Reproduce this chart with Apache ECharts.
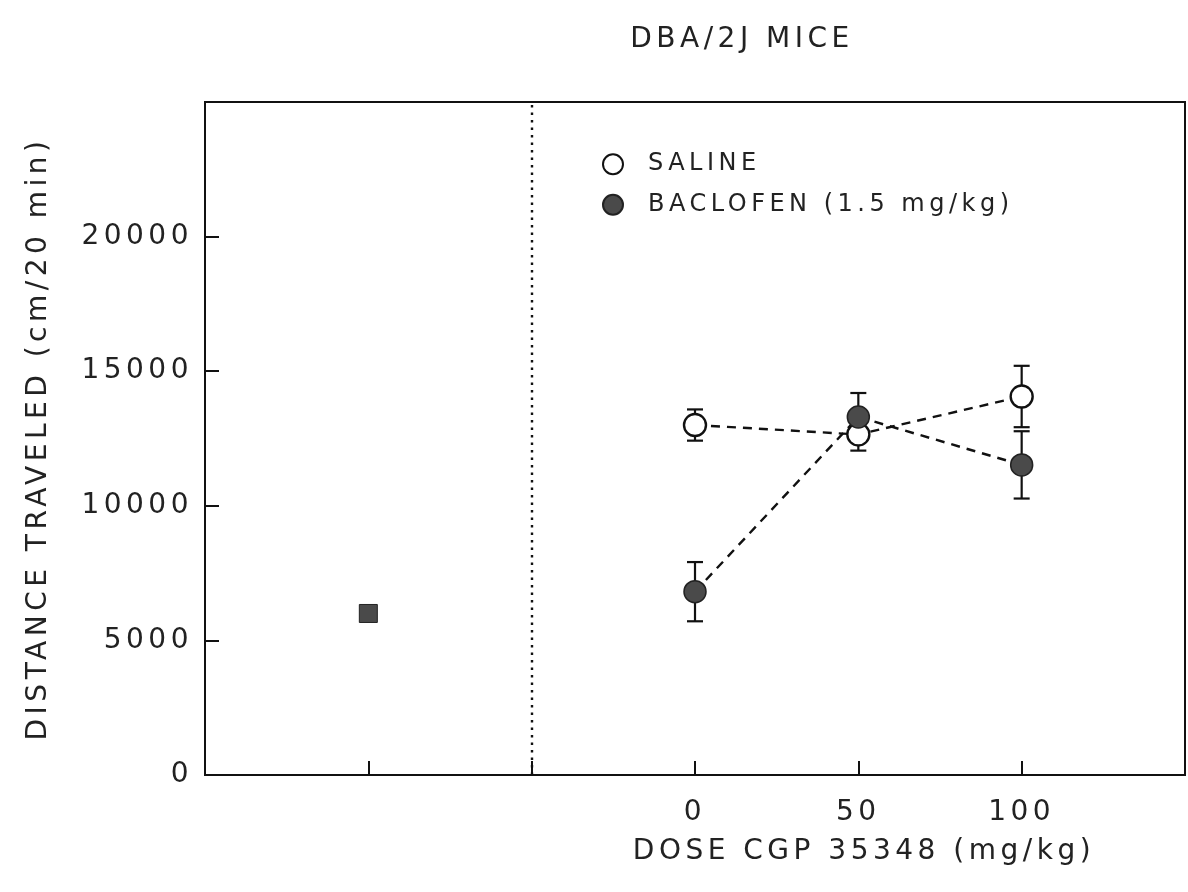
<!DOCTYPE html>
<html>
<head>
<meta charset="utf-8">
<script src="https://cdn.jsdelivr.net/npm/echarts@6/dist/echarts.min.js"></script>
<style>
html,body{margin:0;padding:0;background:#fff;}
#chart{width:1188px;height:892px;}
</style>
</head>
<body>
<div id="chart"></div>
<script>
// ---- data ----
var doseLabels = ['0', '50', '100'];
var dosePositions = [3, 4, 5];          // slots on the x scale
var salineMean = [13000, 12650, 14060];
var salineErr = [580, 600, 1140];
var baclofenMean = [6810, 13300, 11520];
var baclofenErr = [1100, 890, 1250];
var baclofenAlonePos = 1;
var baclofenAloneMean = 6000;
var dividerPos = 2;
var yTicks = [0, 5000, 10000, 15000, 20000];

// wide letter spacing like the original typewriter-style lettering
(function () {
  var LS = '4.5px';
  var proto = CanvasRenderingContext2D.prototype;
  var of = proto.fillText, om = proto.measureText;
  proto.fillText = function () { this.letterSpacing = LS; return of.apply(this, arguments); };
  proto.measureText = function () { this.letterSpacing = LS; return om.apply(this, arguments); };
})();

var FONT = 'DejaVu Sans';
var FS = 28;
var TXT = '#222';

function pairs(pos, vals) { return pos.map(function (p, i) { return [p, vals[i]]; }); }
function errData(pos, m, e) { return pos.map(function (p, i) { return [p, m[i] - e[i], m[i] + e[i]]; }); }

function errRender(params, api) {
  var x = api.value(0);
  var lo = api.coord([x, api.value(1)]);
  var hi = api.coord([x, api.value(2)]);
  var w = 8;
  var st = { stroke: '#111', lineWidth: 2.2, fill: null };
  return {
    type: 'group',
    children: [
      { type: 'line', shape: { x1: lo[0], y1: lo[1], x2: hi[0], y2: hi[1] }, style: st },
      { type: 'line', shape: { x1: lo[0] - w, y1: lo[1], x2: lo[0] + w, y2: lo[1] }, style: st },
      { type: 'line', shape: { x1: hi[0] - w, y1: hi[1], x2: hi[0] + w, y2: hi[1] }, style: st }
    ]
  };
}

var chart = echarts.init(document.getElementById('chart'), null, { renderer: 'canvas' });
chart.setOption({
  backgroundColor: '#fff',
  animation: false,
  textStyle: { fontFamily: FONT },
  grid: { left: 205, right: 3, top: 102, bottom: 117, show: true, borderColor: '#111', borderWidth: 2 },
  graphic: [
    { type: 'text', style: { text: 'DBA/2J MICE', font: FS + 'px ' + FONT, fill: TXT, x: 742, y: 40, align: 'center', verticalAlign: 'middle' } },
    { type: 'text', style: { text: 'DOSE CGP 35348 (mg/kg)', font: FS + 'px ' + FONT, fill: TXT, x: 864, y: 852, align: 'center', verticalAlign: 'middle' } }
  ],
  legend: {
    orient: 'vertical',
    left: 597, top: 145,
    padding: 5,
    icon: 'circle',
    itemWidth: 20, itemHeight: 20,
    itemGap: 12,
    data: ['SALINE', 'BACLOFEN (1.5 mg/kg)'],
    textStyle: { fontFamily: FONT, fontSize: 24, color: TXT, padding: [0, 0, 0, 20] }
  },
  xAxis: {
    type: 'value', min: 0, max: 6, interval: 1,
    axisLine: { show: true, lineStyle: { color: '#111', width: 2 } },
    axisTick: { show: true, inside: true, length: 14, lineStyle: { color: '#111', width: 2 } },
    splitLine: { show: false },
    axisLabel: {
      margin: 21, fontFamily: FONT, fontSize: FS, color: TXT,
      formatter: function (v) { var i = dosePositions.indexOf(v); return i >= 0 ? doseLabels[i] : ''; }
    }
  },
  yAxis: {
    type: 'value', min: 0, max: 25000, interval: 5000,
    name: 'DISTANCE TRAVELED (cm/20 min)',
    nameLocation: 'middle', nameGap: 150,
    nameTextStyle: { fontFamily: FONT, fontSize: FS, color: TXT },
    axisLine: { show: true, lineStyle: { color: '#111', width: 2 } },
    axisTick: { show: true, inside: true, length: 14, lineStyle: { color: '#111', width: 2 } },
    splitLine: { show: false },
    axisLabel: {
      margin: 12, fontFamily: FONT, fontSize: FS, color: TXT,
      formatter: function (v) { return yTicks.indexOf(v) >= 0 && v < 25000 ? String(v) : ''; }
    }
  },
  series: [
    {
      type: 'custom', name: 'salineErr', renderItem: errRender, z: 1,
      data: errData(dosePositions, salineMean, salineErr), silent: true
    },
    {
      type: 'custom', name: 'baclofenErr', renderItem: errRender, z: 1,
      data: errData(dosePositions, baclofenMean, baclofenErr), silent: true
    },
    {
      type: 'line', name: 'SALINE', z: 3,
      data: pairs(dosePositions, salineMean),
      symbol: 'circle', symbolSize: 22,
      lineStyle: { color: '#111', width: 2.4, type: [9, 7] },
      itemStyle: { color: '#fff', borderColor: '#111', borderWidth: 2.4 },
      markLine: {
        silent: true, symbol: 'none', label: { show: false },
        lineStyle: { color: '#111', width: 2.4, type: [2.5, 5] },
        data: [{ xAxis: dividerPos }]
      }
    },
    {
      type: 'line', name: 'BACLOFEN (1.5 mg/kg)', z: 4,
      data: pairs(dosePositions, baclofenMean),
      symbol: 'circle', symbolSize: 22,
      lineStyle: { color: '#111', width: 2.4, type: [9, 7] },
      itemStyle: { color: '#4a4a4a', borderColor: '#222', borderWidth: 1.5 }
    },
    {
      type: 'scatter', name: 'baclofenAlone', z: 4,
      data: [[baclofenAlonePos, baclofenAloneMean]],
      symbol: 'rect', symbolSize: 18,
      itemStyle: { color: '#4a4a4a', borderColor: '#222', borderWidth: 1, opacity: 1 }
    }
  ]
});
</script>
</body>
</html>
